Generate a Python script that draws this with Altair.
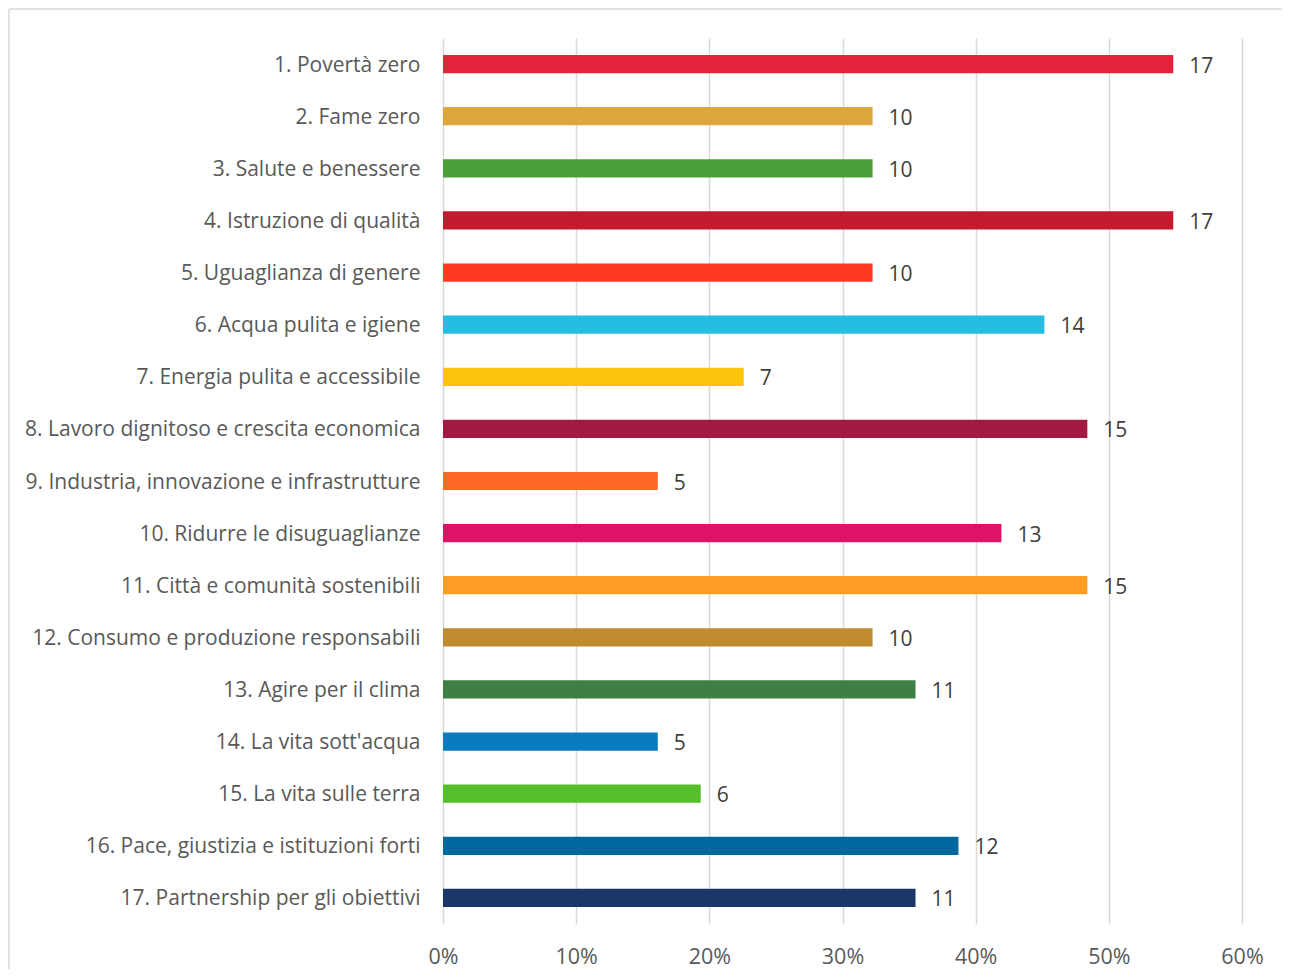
import altair as alt
import pandas as pd

categories = [
    "1. Povertà zero",
    "2. Fame zero",
    "3. Salute e benessere",
    "4. Istruzione di qualità",
    "5. Uguaglianza di genere",
    "6. Acqua pulita e igiene",
    "7. Energia pulita e accessibile",
    "8. Lavoro dignitoso e crescita economica",
    "9. Industria, innovazione e infrastrutture",
    "10. Ridurre le disuguaglianze",
    "11. Città e comunità sostenibili\u00a0\u00a0",
    "12. Consumo e produzione responsabili",
    "13. Agire per il clima",
    "14. La vita sott'acqua",
    "15. La vita sulle terra",
    "16. Pace, giustizia e istituzioni forti",
    "17. Partnership per gli obiettivi",
]
counts = [17, 10, 10, 17, 10, 14, 7, 15, 5, 13, 15, 10, 11, 5, 6, 12, 11]
total = 31
colors = [
    "#E5243B", "#DDA63A", "#4C9F38", "#C5192D", "#FF3A21", "#26BDE2",
    "#FCC30B", "#A21942", "#FD6925", "#DD1367", "#FD9D24", "#BF8B2E",
    "#3F7E44", "#0A7BBD", "#56C02B", "#00689D", "#1B3767",
]
tick_values = [0, 0.1, 0.2, 0.3, 0.4, 0.5, 0.6]

df = pd.DataFrame({"cat": categories, "count": counts})
df["share"] = df["count"] / total

FONT = "Open Sans"

y_enc = alt.Y(
    "cat:N",
    sort=categories,
    title=None,
    scale=alt.Scale(paddingInner=0.65, paddingOuter=0.325),
    axis=alt.Axis(
        domain=False, ticks=False, grid=False,
        labelFont=FONT, labelFontSize=21, labelColor="#595959",
        labelPadding=23, labelLimit=500, labelOffset=1.5,
    ),
)
x_enc = alt.X(
    "share:Q",
    title=None,
    scale=alt.Scale(domain=[0, 0.6], nice=False),
    axis=alt.Axis(
        values=tick_values, format=".0%", domain=False, ticks=False,
        grid=True, gridColor="#d9d9d9", gridWidth=1.5,
        labelFont=FONT, labelFontSize=21.5, labelColor="#595959",
        labelPadding=22, labelFlush=False,
    ),
)

base = alt.Chart(df)

bars = base.mark_bar().encode(
    x=x_enc,
    y=y_enc,
    color=alt.Color("cat:N", scale=alt.Scale(domain=categories, range=colors), legend=None),
)

labels = base.mark_text(
    align="left", baseline="middle", dx=16, dy=2.5,
    font=FONT, fontSize=21, color="#404040",
).encode(
    x="share:Q",
    y=alt.Y("cat:N", sort=categories),
    text="count:Q",
)

frame_top = alt.Chart(pd.DataFrame({"a": [0]})).mark_rule(
    color="#d9d9d9", strokeWidth=1.5
).encode(x=alt.value(-434), x2=alt.value(840), y=alt.value(-29))
frame_left = alt.Chart(pd.DataFrame({"a": [0]})).mark_rule(
    color="#d9d9d9", strokeWidth=1.5
).encode(x=alt.value(-434), y=alt.value(-29), y2=alt.value(940))

chart = alt.layer(bars, labels, frame_top, frame_left).properties(
    width=799,
    height=886,
    background="white",
    autosize=alt.AutoSizeParams(type="none"),
    padding={"left": 435, "top": 30, "right": 40, "bottom": 45},
).configure_view(stroke=None, strokeWidth=0)

chart.save("out.html", embed_options={"renderer": "svg", "actions": False})
